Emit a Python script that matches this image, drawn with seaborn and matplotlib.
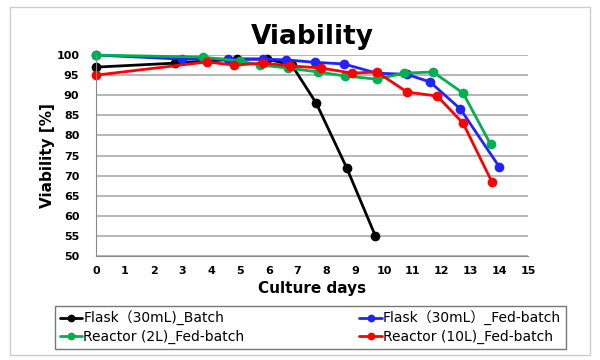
import seaborn as sns
import pandas as pd
import matplotlib.pyplot as plt
from matplotlib.patches import Rectangle

# days / viability (%)
flask_batch_days = [0, 2.75, 4.9, 5.95, 6.8, 7.65, 8.7, 9.7]
flask_batch_via = [97, 98, 99, 99, 97.5, 88, 72, 55]

flask_fed_days = [0, 3.0, 4.6, 5.8, 6.6, 7.6, 8.6, 9.75, 10.8, 11.6, 12.65, 14.0]
flask_fed_via = [100, 99, 99, 99, 98.8, 98.2, 97.8, 95.5, 95.2, 93.3, 86.6, 72.2]

reactor2_days = [0, 3.7, 5.0, 5.7, 6.65, 7.7, 8.65, 9.75, 10.7, 11.7, 12.75, 13.7]
reactor2_via = [100, 99.5, 98.5, 97.5, 96.8, 95.8, 94.8, 94, 95.5, 95.8, 90.5, 77.8]

reactor10_days = [0, 3.85, 4.8, 5.8, 6.75, 7.8, 8.9, 9.75, 10.8, 11.85, 12.75, 13.75]
reactor10_via = [95, 98.3, 97.5, 98, 97.3, 96.8, 95.5, 95.8, 90.8, 89.8, 83, 68.4]

labels = ["Flask（30mL)_Batch", "Flask（30mL）_Fed-batch",
          "Reactor (2L)_Fed-batch", "Reactor (10L)_Fed-batch"]
colors = ["#000000", "#2222ff", "#00b050", "#ff0000"]

series = [(flask_batch_days, flask_batch_via),
          (flask_fed_days, flask_fed_via),
          (reactor2_days, reactor2_via),
          (reactor10_days, reactor10_via)]

sns.set_style("white")
plt.rcParams['font.family'] = ['DejaVu Sans', 'Noto Sans CJK JP']
plt.rcParams['text.color'] = 'black'
plt.rcParams['axes.labelcolor'] = 'black'
plt.rcParams['xtick.color'] = 'black'
plt.rcParams['ytick.color'] = 'black'

fig = plt.figure(figsize=(6, 3.6), dpi=100)
fig.patches.append(Rectangle((0.017, 0.014), 0.966, 0.966, transform=fig.transFigure,
                             fill=False, edgecolor="#cccccc", linewidth=1))
ax = fig.add_axes([0.16, 0.289, 0.72, 0.558])

for (d, v), lab, c in zip(series, labels, colors):
    df = pd.DataFrame({"day": d, "via": v})
    sns.lineplot(data=df, x="day", y="via", ax=ax, color=c, label=lab,
                 marker="o", markersize=7, markeredgewidth=0, linewidth=2,
                 clip_on=False)

ax.set_xlim(0, 15)
ax.set_ylim(50, 100)
ax.set_xticks(range(0, 16))
ax.set_yticks(range(50, 101, 5))
ax.yaxis.grid(True, color="#aaaaaa", linewidth=1.2)
ax.set_axisbelow(True)
for s in ["top", "right"]:
    ax.spines[s].set_visible(False)
for s in ["left", "bottom"]:
    ax.spines[s].set_color("#888888")
ax.tick_params(axis="x", length=3, color="#888888", labelsize=8, pad=4)
ax.tick_params(axis="y", length=4, color="#aaaaaa", labelsize=8, pad=8)
for t in ax.get_xticklabels() + ax.get_yticklabels():
    t.set_fontweight("bold")

ax.set_xlabel("Culture days", fontsize=11, fontweight="bold", labelpad=4)
ax.set_ylabel("Viability [%]", fontsize=11, fontweight="bold", labelpad=1)
ax.set_title("Viability", fontsize=19, fontweight="bold", pad=8)

ax.get_legend().remove()
h, l = ax.get_legend_handles_labels()
# column-first fill: black, green | blue, red
order = [0, 2, 1, 3]
leg = fig.legend([h[i] for i in order], [l[i] for i in order], ncol=2,
                 loc="lower left", bbox_to_anchor=(0.08, 0.012, 0.875, 0.12),
                 mode="expand", fontsize=10, frameon=True, fancybox=False,
                 edgecolor="#555555", handlelength=1.6, handletextpad=0.1,
                 borderpad=0.35, labelspacing=0.3, markerscale=0.8)
leg.get_frame().set_linewidth(1)

fig.savefig("out.png", dpi=100)
